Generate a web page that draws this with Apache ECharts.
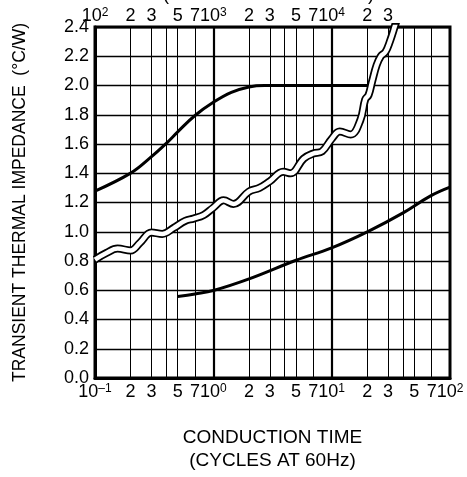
<!DOCTYPE html>
<html><head><meta charset="utf-8">
<script src="https://cdn.jsdelivr.net/npm/echarts@6/dist/echarts.min.js"></script>
<style>html,body{margin:0;padding:0;background:#fff;}#c{width:467px;height:477px;}</style>
</head><body><div id="c"></div>
<script>
// Tick / grid values
const bottomLabelValues = [0.1,0.2,0.3,0.5,0.7,1,2,3,5,7,10,20,30,50,70,100];
const topLabelValues = [100,200,300,500,700,1000,2000,3000,5000,7000,10000,20000,30000];
const gridLineValues = [0.1,0.2,0.3,0.4,0.5,0.7,1,2,3,4,5,7,10,20,30,40,50,70,100];
const decadeLineValues = [1, 10];

// Upper curve (thick black)
const upperX = [0.1,0.2,0.29,0.4,0.5,0.7,1.0,1.42,2,2.7,5,10,21.5];
const upperY = [1.278,1.401,1.503,1.604,1.683,1.795,1.885,1.953,1.99,2.0,2.0,2.0,2.0];

// Lower curve
const lowerX = [0.5,0.7,1,2.06,5,10,20.4,40.5,68,100];
const lowerY = [0.557,0.575,0.598,0.681,0.805,0.89,1.003,1.131,1.244,1.305];

// Wavy double-line curve
const waveX = [0.1,0.125,0.155,0.2,0.24,0.3,0.37,0.46,0.58,0.68,0.83,1.0,1.22,1.48,2.0,2.45,3.0,3.9,4.5,5.8,7.0,8.3,10,11.7,14.5,17.5,19.2,20.5,22,24,26,28.5,31,34,37];
const waveY = [0.81,0.855,0.885,0.872,0.925,0.995,0.985,1.025,1.075,1.09,1.115,1.165,1.215,1.19,1.275,1.3,1.345,1.41,1.4,1.5,1.535,1.55,1.635,1.685,1.665,1.765,1.905,1.935,2.03,2.14,2.2,2.23,2.3,2.4,2.5];

const zip = (xs, ys) => xs.map((x, i) => [x, ys[i]]);
const FONT = "'Liberation Sans', Arial, sans-serif";

function fmtLog(v) {
  const e = Math.floor(Math.log10(v) + 1e-9);
  const m = Math.round(v / Math.pow(10, e));
  if (m === 1) {
    const es = e < 0 ? '\u2013' + (-e) : String(e);
    return '10{sup|' + es + '}';
  }
  return String(m);
}

const chart = echarts.init(document.getElementById('c'), null, {renderer: 'canvas'});
chart.setOption({
  animation: false,
  backgroundColor: '#fff',
  textStyle: {fontFamily: FONT},
  grid: {left: 95, right: 17, top: 27, bottom: 94.5, show: true, borderColor: '#000', borderWidth: 3, backgroundColor: 'transparent'},
  graphic: [
    {type: 'text', left: 163, top: -14, style: {text: '(', font: '18px ' + FONT, fill: '#000'}},
    {type: 'text', left: 368, top: -14, style: {text: ')', font: '18px ' + FONT, fill: '#000'}}
  ],
  xAxis: [{
    type: 'log', logBase: 10, min: 0.1, max: 100, position: 'bottom',
    axisLine: {show: true, onZero: false, lineStyle: {color: '#000', width: 3}},
    axisTick: {show: false, customValues: gridLineValues},
    splitLine: {show: true, lineStyle: {color: '#000', width: 1}},
    axisLabel: {
      customValues: bottomLabelValues, margin: 5, color: '#000', fontSize: 18, fontFamily: FONT,
      formatter: fmtLog,
      rich: {sup: {fontSize: 12, verticalAlign: 'top', lineHeight: 12, fontFamily: FONT, color: '#000'}}
    },
    name: 'CONDUCTION TIME\n(CYCLES AT 60Hz)', nameLocation: 'middle', nameGap: 48,
    nameTextStyle: {color: '#000', fontSize: 19, lineHeight: 23, fontFamily: FONT, verticalAlign: 'top'}
  }, {
    type: 'log', logBase: 10, min: 100, max: 100000, position: 'top',
    axisLine: {show: false}, axisTick: {show: false}, splitLine: {show: false},
    axisLabel: {
      customValues: topLabelValues, margin: 2, color: '#000', fontSize: 18, fontFamily: FONT,
      formatter: fmtLog,
      rich: {sup: {fontSize: 12, verticalAlign: 'top', lineHeight: 12, fontFamily: FONT, color: '#000'}}
    }
  }],
  yAxis: {
    type: 'value', min: 0, max: 2.4, interval: 0.2,
    axisLine: {show: true, onZero: false, lineStyle: {color: '#000', width: 3}},
    axisTick: {show: false},
    splitLine: {show: true, lineStyle: {color: '#000', width: 1.3}},
    axisLabel: {color: '#000', fontSize: 18, fontFamily: FONT, margin: 6, formatter: v => v.toFixed(1)},
    name: 'TRANSIENT THERMAL IMPEDANCE  (\u00B0C/W)', nameLocation: 'middle', nameGap: 66,
    nameTextStyle: {color: '#000', fontSize: 17.5, fontFamily: FONT}
  },
  series: [
    {type: 'line', xAxisIndex: 0, data: zip(upperX, upperY), smooth: 0.4, showSymbol: false,
     lineStyle: {color: '#000', width: 3}, z: 3,
     markLine: {silent: true, symbol: 'none', label: {show: false},
       lineStyle: {color: '#000', width: 2.2, type: 'solid'},
       data: decadeLineValues.map(v => ({xAxis: v}))}},
    {type: 'line', xAxisIndex: 0, data: zip(lowerX, lowerY), smooth: 0.4, showSymbol: false,
     lineStyle: {color: '#000', width: 3}, z: 3},
    {type: 'line', xAxisIndex: 0, data: zip(waveX, waveY), smooth: 0.4, showSymbol: false,
     lineStyle: {color: '#000', width: 8}, z: 4},
    {type: 'line', xAxisIndex: 0, data: zip(waveX, waveY), smooth: 0.4, showSymbol: false,
     lineStyle: {color: '#fff', width: 4.5}, z: 5}
  ]
});
</script></body></html>
